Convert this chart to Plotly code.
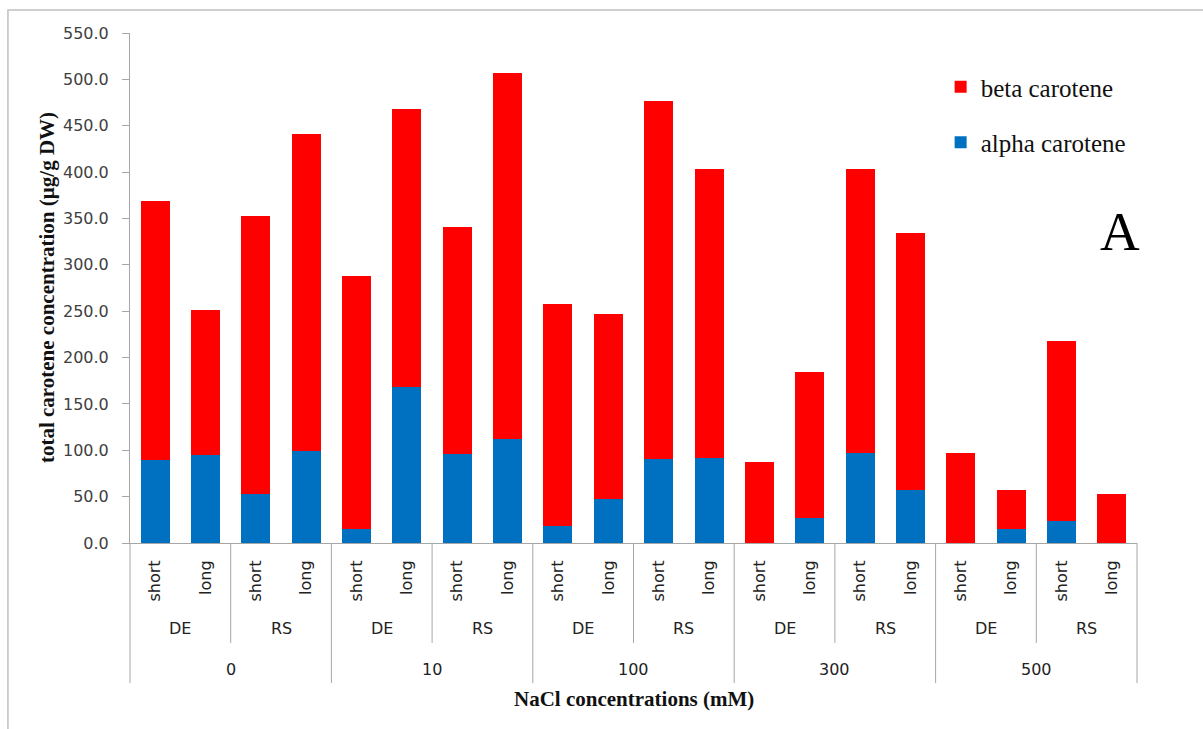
import plotly.graph_objects as go

# Treatment structure: NaCl concentration (mM) > seed source > priming duration
concentrations = ["0", "10", "100", "300", "500"]
sources = ["DE", "RS"]
durations = ["short", "long"]

# Carotene content (µg/g DW) per bar, ordered conc -> source -> duration
alpha_carotene = [89.9, 94.6, 52.5, 98.9, 15.5, 168.2, 96.0, 111.8, 18.0, 47.1,
                  90.3, 91.3, 0.0, 26.6, 96.7, 57.6, 0.0, 15.5, 23.4, 0.0]
beta_carotene = [279.3, 156.7, 300.6, 341.8, 272.9, 299.5, 245.2, 395.5, 240.2, 200.3,
                 386.4, 312.4, 87.0, 157.8, 307.0, 277.1, 97.5, 42.1, 194.5, 53.3]

n_dur = len(durations)
n_src = len(sources)
per_conc = n_dur * n_src
n_bars = len(concentrations) * per_conc
x_pos = list(range(n_bars))
tick_text = [durations[i % n_dur] for i in x_pos]

X_MIN, X_MAX = -0.5, n_bars - 0.5


def to_paper(xv):
    return (xv - X_MIN) / (X_MAX - X_MIN)


RED = "#FF0000"
BLUE = "#0070C0"
AXIS_GREY = "#A6A6A6"
SANS = "DejaVu Sans"
SERIF = "Liberation Serif"

fig = go.Figure()
fig.add_trace(go.Bar(x=x_pos, y=alpha_carotene, name="alpha carotene",
                     marker=dict(color=BLUE, line=dict(width=0)),
                     legendgroup="alpha", legendrank=2))
fig.add_trace(go.Bar(x=x_pos, y=beta_carotene, name="beta carotene",
                     marker=dict(color=RED, line=dict(width=0)),
                     legendgroup="beta", legendrank=1))

shapes = []
annotations = []

# Category separators below the axis
inner_bottom = -0.196
outer_bottom = -0.2745
for c in range(len(concentrations) + 1):
    xb = c * per_conc - 0.5
    shapes.append(dict(type="line", xref="paper", yref="paper",
                       x0=to_paper(xb), x1=to_paper(xb), y0=0, y1=outer_bottom,
                       line=dict(color=AXIS_GREY, width=1)))
for c in range(len(concentrations)):
    for s in range(1, n_src):
        xb = c * per_conc + s * n_dur - 0.5
        shapes.append(dict(type="line", xref="paper", yref="paper",
                           x0=to_paper(xb), x1=to_paper(xb), y0=0, y1=inner_bottom,
                           line=dict(color=AXIS_GREY, width=1)))

# Source and concentration group labels
for c, conc in enumerate(concentrations):
    for s, src in enumerate(sources):
        xc = c * per_conc + s * n_dur + (n_dur - 1) / 2
        annotations.append(dict(x=xc, xref="x", y=-0.1686, yref="paper",
                                text=src, showarrow=False, yanchor="middle",
                                font=dict(family=SANS, size=16, color="#222222")))
    xc = c * per_conc + (per_conc - 1) / 2
    annotations.append(dict(x=xc, xref="x", y=-0.249, yref="paper",
                            text=conc, showarrow=False, yanchor="middle",
                            font=dict(family=SANS, size=16, color="#222222")))

# Axis titles
annotations.append(dict(x=0.5, xref="paper", y=-0.306, yref="paper",
                        text="NaCl concentrations (mM)", showarrow=False,
                        yanchor="middle",
                        font=dict(family=SERIF, size=21, color="#111111", weight="bold")))
annotations.append(dict(x=-0.0824, xref="paper", y=0.5, yref="paper",
                        text="total carotene concentration (µg/g DW)", showarrow=False,
                        textangle=-90, xanchor="center", yanchor="middle",
                        font=dict(family=SERIF, size=21, color="#111111", weight="bold")))

# Panel letter
annotations.append(dict(x=0.983, xref="paper", y=0.61, yref="paper",
                        text="A", showarrow=False, xanchor="center", yanchor="middle",
                        font=dict(family=SERIF, size=55, color="#000000")))

# Outer chart frame
shapes.append(dict(type="rect", xref="paper", yref="paper",
                   x0=-0.1212, x1=1.08, y0=1.045, y1=-0.40,
                   line=dict(color="#C0C0C0", width=1.5), layer="below"))

fig.update_layout(
    width=1203, height=729,
    margin=dict(l=130, r=66, t=33, b=186),
    barmode="stack",
    bargap=0.424,
    paper_bgcolor="white",
    plot_bgcolor="white",
    showlegend=True,
    legend=dict(x=0.805, y=0.939, xanchor="left", yanchor="top",
                traceorder="grouped", tracegroupgap=20,
                font=dict(family=SERIF, size=25, color="#111111"),
                bgcolor="rgba(0,0,0,0)"),
    xaxis=dict(range=[X_MIN, X_MAX], tickmode="array", tickvals=x_pos,
               ticktext=tick_text, tickangle=-90, ticks="",
               showline=True, linecolor=AXIS_GREY, linewidth=1,
               showgrid=False, zeroline=False, ticklabelstandoff=10,
               tickfont=dict(family=SANS, size=16, color="#222222")),
    yaxis=dict(range=[0, 550], dtick=50, tick0=0, tickformat=".1f",
               ticks="outside", ticklen=7, tickcolor=AXIS_GREY,
               showline=True, linecolor=AXIS_GREY, linewidth=1,
               showgrid=False, zeroline=False, ticklabelstandoff=10,
               tickfont=dict(family=SANS, size=16, color="#404040")),
    shapes=shapes,
    annotations=annotations,
)

fig.write_html("out.html")
